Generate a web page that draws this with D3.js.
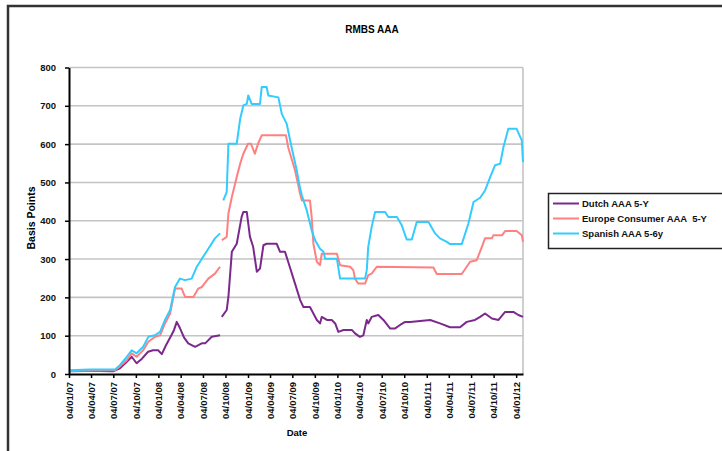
<!DOCTYPE html>
<html>
<head>
<meta charset="utf-8">
<script src="https://cdn.jsdelivr.net/npm/d3@7"></script>
<style>
  html, body { margin: 0; padding: 0; background: #fff; }
  svg { display: block; font-family: "Liberation Sans", Arial, sans-serif; }
</style>
</head>
<body>
<svg id="chart" width="722" height="451"></svg>
<script>
// RMBS AAA spreads (basis points), by date
const title = "RMBS AAA";
const yTicks = [0, 100, 200, 300, 400, 500, 600, 700, 800];
const xTickDates = [
  "2007-01-04", "2007-04-04", "2007-07-04", "2007-10-04",
  "2008-01-04", "2008-04-04", "2008-07-04", "2008-10-04",
  "2009-01-04", "2009-04-04", "2009-07-04", "2009-10-04",
  "2010-01-04", "2010-04-04", "2010-07-04", "2010-10-04",
  "2011-01-04", "2011-04-04", "2011-07-04", "2011-10-04",
  "2012-01-04"
];
const seriesNames = ["Dutch AAA 5-Y", "Europe Consumer AAA  5-Y", "Spanish AAA 5-6y"];

const dutch = [
  ["2007-01-04", 7], ["2007-03-10", 8], ["2007-05-11", 8], ["2007-07-03", 7],
  ["2007-07-31", 15], ["2007-08-25", 30], ["2007-09-17", 45], ["2007-10-07", 28],
  ["2007-10-29", 40], ["2007-11-23", 58], ["2007-12-13", 62], ["2008-01-03", 62],
  ["2008-01-18", 52], ["2008-02-04", 75], ["2008-02-25", 100], ["2008-03-08", 115],
  ["2008-03-19", 136], ["2008-04-01", 120], ["2008-04-18", 95], ["2008-05-05", 80],
  ["2008-06-02", 71], ["2008-06-29", 80], ["2008-07-13", 80], ["2008-08-09", 97],
  ["2008-09-12", 101], ["2008-09-15", null],
  ["2008-09-19", 149], ["2008-10-09", 167], ["2008-10-16", 201], ["2008-10-30", 319],
  ["2008-11-19", 340], ["2008-12-09", 410], ["2008-12-16", 423], ["2008-12-30", 423],
  ["2009-01-12", 358], ["2009-01-25", 332], ["2009-02-09", 267], ["2009-02-22", 275],
  ["2009-03-08", 336], ["2009-03-21", 340], ["2009-05-01", 340], ["2009-05-15", 319],
  ["2009-06-04", 319], ["2009-06-17", 293], ["2009-07-15", 236], ["2009-08-05", 193],
  ["2009-08-18", 175], ["2009-09-14", 175], ["2009-09-28", 158], ["2009-10-12", 141],
  ["2009-10-25", 132], ["2009-11-01", 149], ["2009-11-22", 141], ["2009-12-12", 141],
  ["2009-12-26", 132], ["2010-01-08", 110], ["2010-01-29", 115], ["2010-03-04", 115],
  ["2010-03-17", 106], ["2010-04-06", 97], ["2010-04-20", 101], ["2010-05-04", 141],
  ["2010-05-10", 132], ["2010-05-24", 149], ["2010-06-20", 154], ["2010-07-11", 141],
  ["2010-08-07", 119], ["2010-08-28", 119], ["2010-09-17", 128], ["2010-10-08", 136],
  ["2010-10-28", 136], ["2011-01-18", 141], ["2011-02-27", 132], ["2011-04-09", 122],
  ["2011-05-20", 122], ["2011-06-16", 136], ["2011-07-20", 141], ["2011-08-10", 149],
  ["2011-08-30", 158], ["2011-09-27", 145], ["2011-10-24", 141], ["2011-11-20", 162],
  ["2011-12-24", 162], ["2012-01-13", 154], ["2012-02-01", 149]
];

const europe = [
  ["2007-01-04", 8], ["2007-07-11", 10], ["2007-07-31", 20], ["2007-08-28", 36],
  ["2007-09-17", 54], ["2007-10-07", 45], ["2007-11-03", 62], ["2007-11-24", 84],
  ["2007-12-21", 97], ["2008-01-11", 101], ["2008-01-31", 132], ["2008-02-21", 158],
  ["2008-03-12", 223], ["2008-04-08", 223], ["2008-04-22", 201], ["2008-05-26", 201],
  ["2008-06-15", 223], ["2008-06-29", 227], ["2008-07-26", 249], ["2008-08-22", 262],
  ["2008-09-12", 280], ["2008-09-15", null],
  ["2008-09-19", 349], ["2008-10-09", 358], ["2008-10-16", 419], ["2008-10-30", 462],
  ["2008-11-19", 514], ["2008-12-03", 549], ["2008-12-16", 575], ["2009-01-04", 601],
  ["2009-01-16", 601], ["2009-02-01", 575], ["2009-02-14", 601], ["2009-03-01", 623],
  ["2009-06-08", 623], ["2009-06-17", 592], ["2009-07-15", 532], ["2009-08-05", 470],
  ["2009-08-12", 453], ["2009-09-14", 453], ["2009-09-21", 410], ["2009-09-28", 340],
  ["2009-10-12", 293], ["2009-10-25", 284], ["2009-11-01", 314], ["2010-01-02", 314],
  ["2010-01-15", 284], ["2010-02-25", 280], ["2010-03-10", 271], ["2010-03-17", 249],
  ["2010-03-30", 236], ["2010-04-27", 236], ["2010-05-10", 258], ["2010-05-24", 262],
  ["2010-06-14", 280], ["2011-01-31", 278], ["2011-02-14", 261], ["2011-05-27", 261],
  ["2011-06-16", 280], ["2011-06-30", 293], ["2011-07-27", 297], ["2011-08-17", 332],
  ["2011-08-30", 354], ["2011-09-27", 354], ["2011-10-03", 362], ["2011-11-07", 362],
  ["2011-11-20", 373], ["2012-01-06", 373], ["2012-01-27", 362], ["2012-02-01", 345]
];

const spanish = [
  ["2007-01-04", 10], ["2007-03-30", 12], ["2007-07-11", 12], ["2007-07-31", 23],
  ["2007-08-28", 45], ["2007-09-17", 62], ["2007-10-07", 54], ["2007-11-03", 71],
  ["2007-11-24", 97], ["2007-12-21", 101], ["2008-01-11", 110], ["2008-01-31", 141],
  ["2008-02-21", 167], ["2008-03-12", 227], ["2008-04-01", 249], ["2008-04-22", 245],
  ["2008-05-19", 249], ["2008-06-09", 280], ["2008-06-29", 300], ["2008-07-26", 327],
  ["2008-08-22", 354], ["2008-09-12", 367], ["2008-09-15", null],
  ["2008-09-25", 453], ["2008-10-09", 475], ["2008-10-16", 601], ["2008-11-19", 601],
  ["2008-12-03", 666], ["2008-12-16", 701], ["2008-12-30", 705], ["2009-01-05", 727],
  ["2009-01-19", 705], ["2009-02-22", 705], ["2009-03-01", 749], ["2009-03-21", 749],
  ["2009-03-28", 727], ["2009-05-08", 722], ["2009-05-22", 679], ["2009-06-11", 653],
  ["2009-07-01", 592], ["2009-07-22", 532], ["2009-08-05", 484], ["2009-08-12", 466],
  ["2009-09-01", 427], ["2009-09-21", 375], ["2009-10-05", 349], ["2009-10-25", 327],
  ["2009-11-08", 319], ["2009-11-15", 301], ["2010-01-02", 301], ["2010-01-15", 249],
  ["2010-04-27", 249], ["2010-05-04", 271], ["2010-05-10", 332], ["2010-05-24", 384],
  ["2010-06-07", 423], ["2010-07-18", 423], ["2010-07-31", 410], ["2010-09-04", 410],
  ["2010-09-24", 388], ["2010-10-14", 351], ["2010-11-04", 351], ["2010-11-24", 397],
  ["2011-01-11", 397], ["2011-02-07", 367], ["2011-02-27", 354], ["2011-03-27", 345],
  ["2011-04-09", 339], ["2011-05-27", 339], ["2011-06-23", 393], ["2011-07-14", 449],
  ["2011-08-10", 460], ["2011-08-30", 479], ["2011-09-20", 514], ["2011-10-10", 545],
  ["2011-10-31", 549], ["2011-11-13", 592], ["2011-12-03", 640], ["2012-01-06", 640],
  ["2012-01-27", 610], ["2012-02-01", 553]
];

const colors = ["#7b2a8c", "#ff8080", "#33ccff"];

const parse = d3.timeParse("%Y-%m-%d");
const fmt = d3.timeFormat("%d/%m/%y");

const svg = d3.select("#chart");
const font = "\"Liberation Sans\", Arial, sans-serif";

// outer chart frame
svg.append("rect")
  .attr("x", 8).attr("y", 6).attr("width", 760).attr("height", 470)
  .attr("fill", "#fff").attr("stroke", "#333").attr("stroke-width", 2.5);

const plot = { left: 69, right: 523, top: 67.5, bottom: 374 };

const x = d3.scaleTime()
  .domain([parse("2007-01-04"), parse("2012-02-01")])
  .range([plot.left, plot.right]);
const y = d3.scaleLinear().domain([0, 800]).range([plot.bottom, plot.top]);

// gridlines
svg.append("g")
  .selectAll("line")
  .data(yTicks.filter(v => v > 0))
  .join("line")
  .attr("x1", plot.left).attr("x2", plot.right)
  .attr("y1", d => y(d)).attr("y2", d => y(d))
  .attr("stroke", "#c4c4c4").attr("stroke-width", 1.6);

// right border of plot area
svg.append("line")
  .attr("x1", plot.right).attr("x2", plot.right)
  .attr("y1", plot.top).attr("y2", plot.bottom)
  .attr("stroke", "#c4c4c4").attr("stroke-width", 1.6);

// series lines
const series = [dutch, europe, spanish];
const line = d3.line()
  .defined(d => d[1] !== null)
  .x(d => x(parse(d[0])))
  .y(d => y(d[1]));

series.forEach((s, i) => {
  svg.append("path")
    .datum(s)
    .attr("fill", "none")
    .attr("stroke", colors[i])
    .attr("stroke-width", 2)
    .attr("stroke-linejoin", "round")
    .attr("d", line);
});

// y axis
const yAxis = svg.append("g")
  .attr("transform", `translate(${plot.left},0)`)
  .call(d3.axisLeft(y).tickValues(yTicks).tickSize(4).tickPadding(9).tickSizeOuter(0));
yAxis.select(".domain").attr("stroke", "#000").attr("stroke-width", 2);
yAxis.selectAll(".tick line").attr("stroke", "#000").attr("stroke-width", 1.5);
yAxis.selectAll("text")
  .attr("font-family", font).attr("font-size", 9.5).attr("font-weight", "bold").attr("fill", "#111");

// x axis
const xAxis = svg.append("g")
  .attr("transform", `translate(0,${plot.bottom})`)
  .call(d3.axisBottom(x).tickValues(xTickDates.map(parse)).tickFormat(fmt).tickSize(4).tickSizeOuter(0));
xAxis.select(".domain").attr("stroke", "#000").attr("stroke-width", 2);
xAxis.selectAll(".tick line").attr("stroke", "#000").attr("stroke-width", 1.5);
xAxis.selectAll("text")
  .attr("font-family", font).attr("font-size", 9.5).attr("font-weight", "bold").attr("fill", "#111")
  .attr("transform", "rotate(-90)")
  .attr("text-anchor", "end")
  .attr("x", -8).attr("y", 0).attr("dy", "0.35em");

// titles
svg.append("text")
  .attr("x", 372).attr("y", 29).attr("dy", "0.35em")
  .attr("text-anchor", "middle")
  .attr("font-family", font).attr("font-size", 10).attr("font-weight", "bold")
  .text(title);

svg.append("text")
  .attr("transform", "translate(31,218) rotate(-90)")
  .attr("text-anchor", "middle").attr("dy", "0.35em")
  .attr("font-family", font).attr("font-size", 10.5).attr("font-weight", "bold")
  .text("Basis Points");

svg.append("text")
  .attr("x", 297).attr("y", 433).attr("dy", "0.35em")
  .attr("text-anchor", "middle")
  .attr("font-family", font).attr("font-size", 9.5).attr("font-weight", "bold")
  .text("Date");

// legend
const legend = svg.append("g");
legend.append("rect")
  .attr("x", 548.5).attr("y", 193.5).attr("width", 200).attr("height", 55)
  .attr("fill", "#fff").attr("stroke", "#222").attr("stroke-width", 1.5);
const rows = [203.5, 218.5, 233.5];
seriesNames.forEach((name, i) => {
  legend.append("line")
    .attr("x1", 553).attr("x2", 579)
    .attr("y1", rows[i]).attr("y2", rows[i])
    .attr("stroke", colors[i]).attr("stroke-width", 2);
  legend.append("text")
    .attr("x", 582).attr("y", rows[i]).attr("dy", "0.35em")
    .attr("font-family", font).attr("font-size", 9.5).attr("font-weight", "bold").attr("fill", "#111")
    .attr("xml:space", "preserve")
    .style("white-space", "pre")
    .text(name);
});
</script>
</body>
</html>
